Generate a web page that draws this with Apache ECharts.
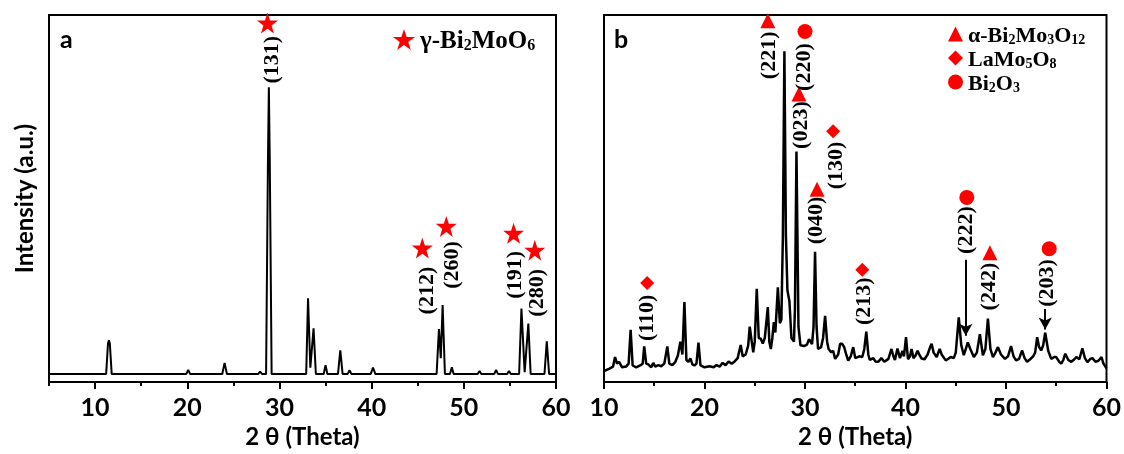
<!DOCTYPE html>
<html>
<head>
<meta charset="utf-8">
<script src="https://cdn.jsdelivr.net/npm/echarts@6/dist/echarts.min.js"></script>
<style>
  html, body { margin: 0; padding: 0; background: #fff; }
  #chart { width: 1124px; height: 454px; }
</style>
</head>
<body>
<div id="chart"></div>
<script>
// panel a: gamma-Bi2MoO6 pattern, [2theta, intensity]
const aPattern = [
  [5,2.2],[11.2,2.2],[11.4,10.5],[11.5,11.4],[11.6,10.5],[11.8,2.2],
  [19.9,2.2],[20.1,3.3],[20.3,2.2],
  [23.8,2.2],[24.05,5.2],[24.3,2.2],
  [25.8,2.2],[26.0,2.5],[26.2,2.2],
  [27.7,2.2],[27.9,2.8],[28.1,2.2],
  [28.55,2.2],[28.75,60],[28.85,80.3],[28.95,60],[29.15,2.2],
  [32.9,2.2],[33.1,22.8],[33.35,3.9],[33.7,14.6],[33.95,2.2],
  [34.8,2.2],[35.0,4.6],[35.2,2.2],
  [36.35,2.2],[36.6,8.6],[36.85,2.2],
  [37.4,2.2],[37.6,3.2],[37.8,2.2],
  [38.6,2.2],[38.8,2.6],[39.0,2.2],
  [39.9,2.2],[40.15,3.9],[40.4,2.2],
  [43.3,2.2],[43.45,2.5],[43.6,2.2],
  [45.0,2.2],[45.2,2.7],[45.4,2.2],
  [47.05,2.2],[47.3,14.4],[47.5,6.5],[47.7,21],[47.95,2.2],
  [48.5,2.2],[48.7,4],[48.9,2.2],
  [51.5,2.2],[51.7,3],[51.9,2.2],
  [53.3,2.2],[53.5,3.3],[53.7,2.2],
  [54.7,2.2],[54.9,3],[55.1,2.2],
  [56.0,2.2],[56.25,20],[56.6,2.7],[57.0,15.9],[57.25,2.2],
  [58.75,2.2],[59.0,11.1],[59.25,2.2],[60,2.2]
];
const aStars = [[28.7,97.8],[45.5,36.5],[48.1,42.4],[55.4,40.5],[57.7,35.9]];
const aHkl = [[29.2,87.8,'(131)'],[46.0,24.9,'(212)'],[48.7,31.9,'(260)'],[55.6,29.2,'(191)'],[57.95,24.3,'(280)']];

// panel b: mixed-phase pattern
const bPattern = [
  [10.0,3.0],[10.5,3.6],[10.9,4.2],[11.1,6.8],[11.3,5.0],[11.5,5.5],[11.8,4.0],[12.2,4.2],[12.45,5.0],
  [12.65,14.2],[12.85,4.5],[13.2,4.0],[13.6,4.5],[13.85,5.0],[14.0,9.7],[14.2,5.0],[14.4,4.8],[14.7,4.0],
  [14.9,5.2],[15.1,4.2],[15.4,4.6],[15.7,4.3],[16.0,5.0],[16.3,9.7],[16.5,5.0],[16.8,4.6],[17.1,5.5],
  [17.35,7.2],[17.6,11],[17.8,7.5],[18.0,21.8],[18.2,6],[18.4,5.5],[18.6,6.4],[18.8,4.8],[19.0,4.5],
  [19.2,5],[19.4,10.7],[19.6,4.5],[20.0,4.0],[20.5,4.3],[20.9,4.0],[21.2,4.6],[21.5,4.2],[21.8,5.2],
  [22.1,4.6],[22.4,5.6],[22.7,5.0],[23.0,5.6],[23.3,6.5],[23.6,10.1],[23.8,7.0],[24.1,7.5],[24.35,10],
  [24.5,15.1],[24.7,11],[24.85,8.1],[25.0,11.0],[25.2,25.4],[25.4,12],[25.6,11.8],[25.8,10.5],[26.0,12],
  [26.3,20.4],[26.45,11],[26.6,9.0],[26.75,12],[26.9,16.3],[27.05,13.5],[27.3,25.8],[27.5,16],[27.65,17],
  [27.8,40],[27.95,90.1],[28.1,40],[28.25,25],[28.45,22],[28.65,12],[28.9,11],[29.0,20],[29.15,62.8],
  [29.35,15],[29.55,10],[29.9,9.8],[30.2,10.2],[30.4,11.7],[30.7,10.3],[30.85,15],[31.0,35.5],[31.15,15],
  [31.3,9.0],[31.6,9.5],[31.8,12],[32.0,18],[32.2,11],[32.35,9],[32.6,8.1],[32.8,8.5],[33.0,6.3],
  [33.3,7.5],[33.5,10.4],[33.7,10.4],[33.9,9.5],[34.1,7.5],[34.3,5.8],[34.55,7],[34.8,9.5],[35.0,6.5],
  [35.1,6.0],[35.4,7.0],[35.7,6.8],[35.9,9],[36.1,13.7],[36.3,7.5],[36.45,6.0],[36.8,6.5],[37.0,5.6],
  [37.3,5.5],[37.6,6.5],[37.9,5.5],[38.3,6.3],[38.6,9.0],[38.8,7],[38.95,6.0],[39.2,9.1],[39.45,6.5],
  [39.7,8.5],[39.85,7],[40.05,12.2],[40.25,6.2],[40.45,7],[40.6,9.0],[40.8,6.5],[41.0,7.2],[41.2,8.5],
  [41.4,7.3],[41.6,6.4],[41.9,6.2],[42.2,7.5],[42.45,9.5],[42.6,10.4],[42.8,8],[43.1,6.8],[43.4,9.0],
  [43.6,7.5],[44.0,5.9],[44.3,6.4],[44.5,6.8],[44.8,6.5],[45.0,8],[45.3,17.6],[45.55,10],[45.8,7.3],
  [46.0,9],[46.2,10.8],[46.45,9],[46.8,6.8],[47.1,8],[47.4,13],[47.7,7.3],[47.95,9],[48.2,17.3],
  [48.45,9],[48.7,6.8],[48.95,8],[49.2,9.5],[49.5,7.5],[49.9,6.3],[50.2,7],[50.5,9.8],[50.75,7],
  [51.0,5.9],[51.3,6.3],[51.6,8.6],[51.85,6.5],[52.1,5.5],[52.4,6.2],[52.7,7],[52.9,8],[53.1,12.2],
  [53.3,9.5],[53.5,8.6],[53.7,10],[53.9,13.4],[54.2,8.5],[54.5,6.3],[54.8,6.8],[55.0,6.8],[55.3,5.5],
  [55.5,5.0],[55.7,6],[55.9,7.7],[56.2,6],[56.5,5.5],[56.8,6.2],[57.0,6.8],[57.3,6.2],[57.6,9.2],
  [57.85,6.5],[58.1,5.4],[58.4,6.3],[58.6,6.5],[58.9,5.5],[59.2,5.8],[59.5,6.8],[59.7,5.0],[60.0,3.7]
];
const bAlpha = [[26.3,98.4],[29.4,78.5],[31.2,52.5],[48.4,35.2]];
const bLaMo = [[14.3,27],[32.8,68.3],[35.7,30.6]];
const bBiO = [[30.0,95.5],[46.1,50.3],[54.3,36.3]];
const bHkl = [
  [26.4,89,'(221)'],[29.9,85.8,'(220)'],[29.6,70,'(023)'],[33.1,59,'(130)'],[31.1,44,'(040)'],
  [35.9,22,'(213)'],[14.3,17.5,'(110)'],[46.1,41.4,'(222)'],[48.3,26,'(242)'],[54.1,27,'(203)']
];
const bArrows = [[46.0,33.3,12.6],[53.9,19.9,14.3]];

const aTicks = [10,20,30,40,50,60];
const aMinorTicks = [5,15,25,35,45,55];

const STAR = 'path://M50,0 L61.8,35.1 L98.9,35.1 L69,57.3 L80.3,92.7 L50,71 L19.7,92.7 L31,57.3 L1.1,35.1 L38.2,35.1 Z';
const RED = '#ff0000';
const sans = 'Lato';
const serif = 'Liberation Serif';

const legendNames = {
  'γ-Bi2MoO6': '{n|γ-Bi}{s|2}{n|MoO}{s|6}',
  'α-Bi2Mo3O12': '{n|α-Bi}{s|2}{n|Mo}{s|3}{n|O}{s|12}',
  'LaMo5O8': '{n|LaMo}{s|5}{n|O}{s|8}',
  'Bi2O3': '{n|Bi}{s|2}{n|O}{s|3}'
};
function richFor(big, small) {
  return {
    n: { fontFamily: serif, fontWeight: 'bold', fontSize: big, lineHeight: big + 4, verticalAlign: 'bottom', color: '#000' },
    s: { fontFamily: serif, fontWeight: 'bold', fontSize: small, lineHeight: small, verticalAlign: 'bottom', color: '#000' }
  };
}

const hklLabel = {
  show: true, position: 'inside', rotate: 90,
  fontFamily: serif, fontWeight: 'bold', fontSize: 22, color: '#000', opacity: 1,
  formatter: p => p.value[2]
};

function xAxisBase(grid, min, max) {
  return {
    type: 'value', gridIndex: grid, min, max, position: 'bottom',
    splitLine: { show: false },
    axisLine: { show: true, lineStyle: { color: '#000', width: 2 } },
    axisTick: { show: true, length: 7, lineStyle: { color: '#000', width: 2 } },
    axisLabel: { margin: 13, fontFamily: sans, fontWeight: 'bold', fontSize: 25, color: '#000' },
    name: '2 θ (Theta)', nameLocation: 'middle', nameGap: 43,
    nameTextStyle: { fontFamily: sans, fontWeight: 'bold', fontSize: 24, color: '#000' }
  };
}

const chart = echarts.init(document.getElementById('chart'));

const xa = xAxisBase(0, 5, 60);
xa.axisTick.customValues = aTicks;
xa.axisLabel.customValues = aTicks;

const xb = xAxisBase(1, 10, 60);
xb.interval = 10;
xb.minorTick = { show: true, splitNumber: 2, length: 4, lineStyle: { color: '#000', width: 2 } };

const solidRed = { color: RED, opacity: 1 };

chart.setOption({
  animation: false,
  title: [
    { text: 'a', left: 60, top: 27, padding: 0, textStyle: { fontFamily: sans, fontWeight: 'bold', fontSize: 25, color: '#000' } },
    { text: 'b', left: 614, top: 27, padding: 0, textStyle: { fontFamily: sans, fontWeight: 'bold', fontSize: 25, color: '#000' } }
  ],
  grid: [
    { left: 49, right: 568, top: 15, bottom: 68, show: true, borderColor: '#000', borderWidth: 2 },
    { left: 604, right: 17, top: 15, bottom: 67, show: true, borderColor: '#000', borderWidth: 2 }
  ],
  legend: [
    {
      data: [{ name: 'γ-Bi2MoO6', icon: STAR }],
      left: 388, top: 24, itemWidth: 22, itemHeight: 22, itemGap: 4,
      formatter: n => legendNames[n], textStyle: { rich: richFor(25, 16) }
    },
    {
      data: [
        { name: 'α-Bi2Mo3O12', icon: 'triangle' },
        { name: 'LaMo5O8', icon: 'diamond' },
        { name: 'Bi2O3', icon: 'circle' }
      ],
      orient: 'vertical', left: 943, top: 20, itemWidth: 15, itemHeight: 15, itemGap: 2,
      formatter: n => legendNames[n], textStyle: { rich: richFor(22, 14) }
    }
  ],
  xAxis: [
    xa,
    {
      type: 'value', gridIndex: 0, min: 5, max: 60, position: 'bottom',
      splitLine: { show: false }, axisLine: { show: false }, axisLabel: { show: false },
      axisTick: { show: true, length: 4, customValues: aMinorTicks, lineStyle: { color: '#000', width: 2 } }
    },
    xb
  ],
  yAxis: [
    {
      type: 'value', gridIndex: 0, min: 0, max: 100,
      axisLine: { show: true, lineStyle: { color: '#000', width: 2 } },
      axisTick: { show: false }, axisLabel: { show: false }, splitLine: { show: false },
      name: 'Intensity (a.u.)', nameLocation: 'middle', nameGap: 12,
      nameTextStyle: { fontFamily: sans, fontWeight: 'bold', fontSize: 24, color: '#000' }
    },
    {
      type: 'value', gridIndex: 1, min: 0, max: 100,
      axisLine: { show: true, lineStyle: { color: '#000', width: 2 } },
      axisTick: { show: false }, axisLabel: { show: false }, splitLine: { show: false }
    }
  ],
  series: [
    {
      type: 'line', xAxisIndex: 0, yAxisIndex: 0, data: aPattern, showSymbol: false,
      lineStyle: { color: '#000', width: 2 }, silent: true
    },
    {
      name: 'γ-Bi2MoO6', type: 'scatter', xAxisIndex: 0, yAxisIndex: 0, data: aStars,
      symbol: STAR, symbolSize: 21, itemStyle: solidRed, clip: false
    },
    {
      type: 'scatter', xAxisIndex: 0, yAxisIndex: 0, data: aHkl, symbolSize: 1,
      itemStyle: { color: 'rgba(0,0,0,0)', opacity: 1 }, label: hklLabel, clip: false
    },
    {
      type: 'line', xAxisIndex: 2, yAxisIndex: 1, data: bPattern, showSymbol: false,
      lineStyle: { color: '#000', width: 2.5 }, silent: true
    },
    {
      name: 'α-Bi2Mo3O12', type: 'scatter', xAxisIndex: 2, yAxisIndex: 1, data: bAlpha,
      symbol: 'triangle', symbolSize: 15, itemStyle: solidRed, clip: false
    },
    {
      name: 'LaMo5O8', type: 'scatter', xAxisIndex: 2, yAxisIndex: 1, data: bLaMo,
      symbol: 'diamond', symbolSize: 14, itemStyle: solidRed, clip: false
    },
    {
      name: 'Bi2O3', type: 'scatter', xAxisIndex: 2, yAxisIndex: 1, data: bBiO,
      symbol: 'circle', symbolSize: 15, itemStyle: solidRed, clip: false
    },
    {
      type: 'scatter', xAxisIndex: 2, yAxisIndex: 1, data: bHkl, symbolSize: 1,
      itemStyle: { color: 'rgba(0,0,0,0)', opacity: 1 }, label: hklLabel, clip: false,
      markLine: {
        silent: true, symbol: ['none', 'arrow'], symbolSize: [10, 12],
        label: { show: false },
        lineStyle: { color: '#000', width: 2, type: 'solid' },
        data: bArrows.map(a => [{ coord: [a[0], a[1]] }, { coord: [a[0], a[2]] }])
      }
    }
  ]
});
</script>
</body>
</html>
